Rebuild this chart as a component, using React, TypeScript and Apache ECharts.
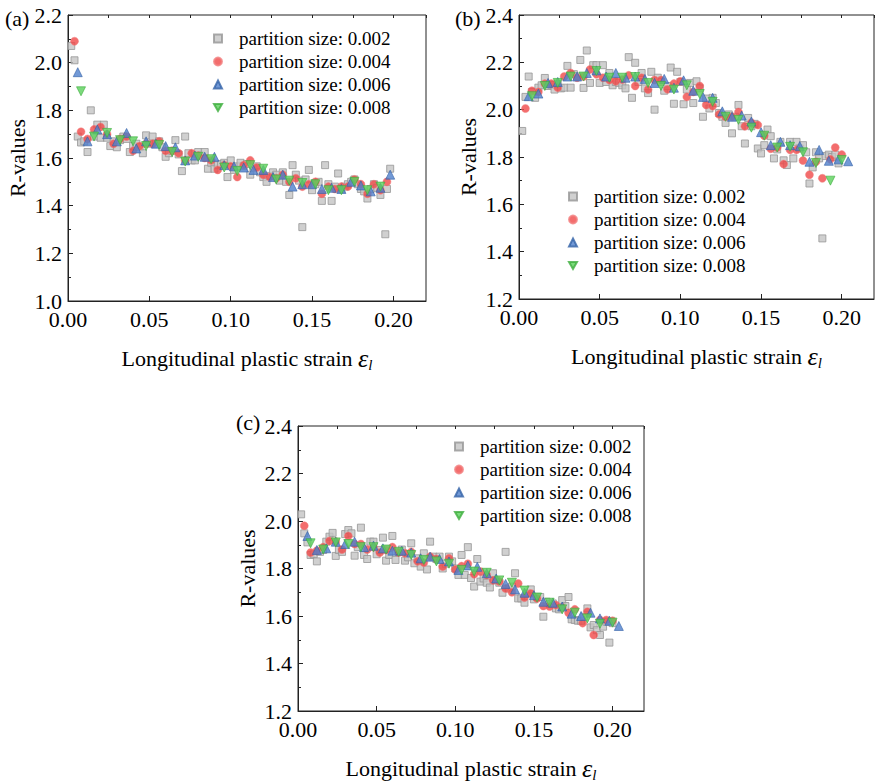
import React, { useEffect, useRef } from "react";
import * as echarts from "echarts";

const FONT = "Liberation Serif, Times New Roman, serif";
const S1 = "partition size: 0.002";
const S2 = "partition size: 0.004";
const S3 = "partition size: 0.006";
const S4 = "partition size: 0.008";
const SERIES_NAMES = [S1, S2, S3, S4];
const PANEL_LABELS = ["(a)", "(b)", "(c)"];
const X_TICKS = { min: 0, max: 0.22, major: 0.05, minor: 0.025 };
const Y_RANGES = [
  [1.0, 2.2],
  [1.2, 2.4],
  [1.2, 2.4],
];

// ---------- Panel (a) ----------
const A002 = [
  [0.002, 2.07], [0.004, 2.01], [0.006, 1.69], [0.008, 1.665], [0.010, 1.67], [0.012, 1.625], [0.014, 1.80], [0.016, 1.69], [0.018, 1.74], [0.020, 1.685],
  [0.022, 1.74], [0.024, 1.685], [0.026, 1.65], [0.028, 1.67], [0.030, 1.645], [0.032, 1.675], [0.034, 1.69], [0.036, 1.68], [0.038, 1.625], [0.040, 1.65],
  [0.042, 1.66], [0.044, 1.645], [0.046, 1.62], [0.048, 1.695], [0.050, 1.66], [0.052, 1.69], [0.054, 1.66], [0.056, 1.67], [0.058, 1.645], [0.060, 1.605],
  [0.062, 1.62], [0.064, 1.63], [0.066, 1.675], [0.068, 1.615], [0.070, 1.545], [0.072, 1.69], [0.074, 1.62], [0.076, 1.59], [0.078, 1.59], [0.080, 1.625],
  [0.082, 1.61], [0.084, 1.625], [0.086, 1.555], [0.088, 1.58], [0.090, 1.555], [0.092, 1.57], [0.094, 1.575], [0.096, 1.58], [0.098, 1.52], [0.100, 1.59],
  [0.102, 1.55], [0.104, 1.565], [0.106, 1.58], [0.108, 1.565], [0.110, 1.575], [0.112, 1.53], [0.114, 1.56], [0.116, 1.565], [0.118, 1.54], [0.120, 1.52],
  [0.122, 1.50], [0.124, 1.525], [0.126, 1.54], [0.128, 1.53], [0.130, 1.505], [0.132, 1.54], [0.134, 1.50], [0.136, 1.445], [0.138, 1.57], [0.140, 1.53],
  [0.142, 1.505], [0.144, 1.31], [0.146, 1.51], [0.148, 1.55], [0.150, 1.465], [0.152, 1.49], [0.154, 1.50], [0.156, 1.42], [0.158, 1.57], [0.160, 1.49],
  [0.162, 1.42], [0.164, 1.48], [0.166, 1.535], [0.168, 1.47], [0.170, 1.48], [0.172, 1.49], [0.174, 1.50], [0.176, 1.51], [0.178, 1.49], [0.180, 1.47],
  [0.182, 1.46], [0.184, 1.43], [0.186, 1.47], [0.188, 1.49], [0.190, 1.475], [0.192, 1.445], [0.195, 1.28], [0.196, 1.47], [0.198, 1.555],
];
const A004 = [
  [0.004, 2.09], [0.008, 1.71], [0.012, 1.68], [0.016, 1.72], [0.020, 1.73], [0.024, 1.70], [0.028, 1.66], [0.032, 1.68], [0.036, 1.69], [0.040, 1.63],
  [0.044, 1.65], [0.048, 1.66], [0.052, 1.66], [0.056, 1.67], [0.060, 1.63], [0.064, 1.63], [0.068, 1.62], [0.072, 1.59], [0.076, 1.62], [0.080, 1.61],
  [0.084, 1.60], [0.088, 1.59], [0.092, 1.55], [0.096, 1.57], [0.100, 1.565], [0.104, 1.52], [0.108, 1.57], [0.112, 1.59], [0.116, 1.56], [0.120, 1.53],
  [0.124, 1.52], [0.128, 1.515], [0.132, 1.53], [0.136, 1.50], [0.140, 1.515], [0.144, 1.48], [0.148, 1.49], [0.152, 1.50], [0.156, 1.45], [0.160, 1.48],
  [0.164, 1.47], [0.168, 1.48], [0.172, 1.48], [0.176, 1.51], [0.180, 1.49], [0.184, 1.45], [0.188, 1.49], [0.192, 1.465], [0.196, 1.50],
];
const A006 = [
  [0.006, 1.96], [0.012, 1.67], [0.018, 1.72], [0.024, 1.70], [0.030, 1.67], [0.036, 1.705], [0.042, 1.64], [0.048, 1.67], [0.054, 1.66], [0.060, 1.65],
  [0.066, 1.645], [0.072, 1.59], [0.078, 1.61], [0.084, 1.605], [0.090, 1.605], [0.096, 1.57], [0.102, 1.565], [0.108, 1.56], [0.114, 1.55], [0.120, 1.55],
  [0.126, 1.52], [0.132, 1.53], [0.138, 1.48], [0.144, 1.49], [0.150, 1.49], [0.156, 1.47], [0.162, 1.475], [0.168, 1.47], [0.174, 1.50], [0.180, 1.485],
  [0.186, 1.46], [0.192, 1.475], [0.198, 1.53],
];
const A008 = [
  [0.008, 1.88], [0.016, 1.69], [0.024, 1.705], [0.032, 1.675], [0.040, 1.67], [0.048, 1.65], [0.056, 1.655], [0.064, 1.625], [0.072, 1.585], [0.080, 1.605],
  [0.088, 1.595], [0.096, 1.56], [0.104, 1.545], [0.112, 1.57], [0.120, 1.555], [0.128, 1.51], [0.136, 1.505], [0.144, 1.495], [0.152, 1.49], [0.160, 1.465],
  [0.168, 1.465], [0.176, 1.50], [0.184, 1.465], [0.192, 1.48],
];

// ---------- Panel (b) ----------
const B002 = [
  [0.002, 1.91], [0.004, 2.054], [0.006, 2.14], [0.008, 2.075], [0.010, 2.05], [0.012, 2.093], [0.014, 2.103], [0.016, 2.134], [0.018, 2.10], [0.020, 2.105],
  [0.022, 2.085], [0.024, 2.11], [0.026, 2.09], [0.028, 2.093], [0.030, 2.185], [0.032, 2.093], [0.034, 2.15], [0.036, 2.14], [0.038, 2.21], [0.040, 2.092],
  [0.042, 2.25], [0.044, 2.113], [0.046, 2.188], [0.048, 2.188], [0.050, 2.113], [0.052, 2.188], [0.054, 2.117], [0.056, 2.155], [0.058, 2.103], [0.060, 2.117],
  [0.062, 2.113], [0.064, 2.103], [0.066, 2.09], [0.068, 2.222], [0.070, 2.05], [0.072, 2.198], [0.074, 2.117], [0.076, 2.155], [0.078, 2.09], [0.080, 2.07],
  [0.082, 2.16], [0.084, 2.0], [0.086, 2.135], [0.088, 2.117], [0.090, 2.08], [0.092, 2.10], [0.094, 2.178], [0.096, 2.025], [0.098, 2.16], [0.100, 2.117],
  [0.102, 2.023], [0.104, 2.085], [0.106, 2.113], [0.108, 2.028], [0.110, 2.12], [0.112, 2.09], [0.114, 1.97], [0.116, 2.047], [0.118, 2.005], [0.120, 2.05],
  [0.122, 2.028], [0.124, 1.986], [0.126, 1.97], [0.128, 1.944], [0.130, 1.98], [0.132, 1.90], [0.134, 1.97], [0.136, 2.02], [0.138, 1.93], [0.140, 1.857],
  [0.142, 1.965], [0.144, 1.93], [0.146, 1.94], [0.148, 1.836], [0.150, 1.815], [0.152, 1.85], [0.154, 1.916], [0.156, 1.888], [0.158, 1.794], [0.160, 1.832],
  [0.162, 1.864], [0.164, 1.786], [0.166, 1.766], [0.168, 1.864], [0.170, 1.794], [0.172, 1.864], [0.174, 1.836], [0.176, 1.85], [0.178, 1.82], [0.180, 1.688],
  [0.182, 1.756], [0.184, 1.82], [0.186, 1.794], [0.188, 1.456], [0.190, 1.804], [0.192, 1.81], [0.194, 1.80], [0.196, 1.81], [0.198, 1.773],
];
const B004 = [
  [0.004, 2.005], [0.008, 2.08], [0.012, 2.075], [0.016, 2.11], [0.020, 2.11], [0.024, 2.093], [0.028, 2.14], [0.032, 2.155], [0.036, 2.135], [0.040, 2.14],
  [0.044, 2.17], [0.048, 2.15], [0.052, 2.135], [0.056, 2.125], [0.060, 2.12], [0.064, 2.127], [0.068, 2.145], [0.072, 2.10], [0.076, 2.135], [0.080, 2.085],
  [0.084, 2.125], [0.088, 2.125], [0.092, 2.086], [0.096, 2.11], [0.100, 2.12], [0.104, 2.054], [0.108, 2.075], [0.112, 2.10], [0.116, 2.02], [0.120, 2.015],
  [0.124, 1.98], [0.128, 1.97], [0.132, 1.97], [0.136, 1.99], [0.140, 1.93], [0.144, 1.945], [0.148, 1.935], [0.152, 1.89], [0.156, 1.835], [0.160, 1.84],
  [0.164, 1.77], [0.168, 1.83], [0.172, 1.83], [0.176, 1.785], [0.180, 1.725], [0.184, 1.78], [0.188, 1.71], [0.193, 1.79], [0.196, 1.84], [0.200, 1.81],
];
const B006 = [
  [0.006, 2.057], [0.012, 2.068], [0.018, 2.113], [0.024, 2.117], [0.030, 2.14], [0.036, 2.14], [0.042, 2.155], [0.048, 2.166], [0.054, 2.14], [0.060, 2.155],
  [0.066, 2.135], [0.072, 2.14], [0.078, 2.13], [0.084, 2.113], [0.090, 2.13], [0.096, 2.093], [0.102, 2.124], [0.108, 2.08], [0.114, 2.054], [0.120, 2.05],
  [0.126, 1.993], [0.132, 1.97], [0.138, 1.975], [0.144, 1.95], [0.150, 1.905], [0.156, 1.85], [0.162, 1.864], [0.168, 1.85], [0.174, 1.846], [0.180, 1.78],
  [0.186, 1.83], [0.192, 1.784], [0.198, 1.79], [0.204, 1.782],
];
const B008 = [
  [0.008, 2.057], [0.016, 2.10], [0.024, 2.113], [0.032, 2.14], [0.040, 2.14], [0.048, 2.163], [0.056, 2.135], [0.064, 2.135], [0.072, 2.138], [0.080, 2.113],
  [0.088, 2.10], [0.096, 2.085], [0.104, 2.103], [0.112, 2.066], [0.120, 2.033], [0.128, 1.97], [0.136, 1.957], [0.144, 1.924], [0.152, 1.89], [0.160, 1.84],
  [0.168, 1.843], [0.176, 1.82], [0.184, 1.775], [0.193, 1.70], [0.200, 1.787],
];

// ---------- Panel (c) ----------
const C002 = [
  [0.002, 2.028], [0.004, 1.948], [0.006, 1.91], [0.008, 1.857], [0.010, 1.86], [0.012, 1.83], [0.014, 1.87], [0.016, 1.878], [0.018, 1.913], [0.020, 1.934],
  [0.022, 1.95], [0.024, 1.853], [0.026, 1.878], [0.028, 1.87], [0.030, 1.945], [0.032, 1.962], [0.034, 1.948], [0.036, 1.854], [0.038, 1.89], [0.040, 1.972],
  [0.042, 1.857], [0.044, 1.84], [0.046, 1.913], [0.048, 1.913], [0.050, 1.86], [0.052, 1.878], [0.054, 1.93], [0.056, 1.833], [0.058, 1.857], [0.060, 1.937],
  [0.062, 1.836], [0.064, 1.87], [0.066, 1.88], [0.068, 1.833], [0.070, 1.847], [0.072, 1.906], [0.074, 1.822], [0.076, 1.843], [0.078, 1.808], [0.080, 1.864],
  [0.082, 1.796], [0.084, 1.913], [0.086, 1.85], [0.088, 1.84], [0.090, 1.85], [0.092, 1.80], [0.094, 1.82], [0.096, 1.85], [0.098, 1.83], [0.100, 1.80],
  [0.102, 1.773], [0.104, 1.857], [0.106, 1.773], [0.108, 1.89], [0.110, 1.76], [0.112, 1.724], [0.114, 1.84], [0.116, 1.745], [0.118, 1.758], [0.120, 1.74],
  [0.122, 1.72], [0.124, 1.78], [0.126, 1.75], [0.128, 1.74], [0.130, 1.698], [0.132, 1.87], [0.134, 1.716], [0.136, 1.724], [0.138, 1.78], [0.140, 1.674],
  [0.142, 1.674], [0.144, 1.656], [0.146, 1.695], [0.148, 1.712], [0.150, 1.67], [0.152, 1.68], [0.154, 1.68], [0.156, 1.597], [0.158, 1.66], [0.160, 1.65],
  [0.162, 1.653], [0.164, 1.632], [0.166, 1.628], [0.168, 1.667], [0.170, 1.642], [0.172, 1.68], [0.174, 1.586], [0.176, 1.583], [0.178, 1.58], [0.180, 1.58],
  [0.182, 1.597], [0.184, 1.632], [0.186, 1.552], [0.188, 1.562], [0.190, 1.54], [0.192, 1.52], [0.194, 1.555], [0.196, 1.576], [0.198, 1.488], [0.200, 1.57],
];
const C004 = [
  [0.004, 1.98], [0.008, 1.867], [0.012, 1.875], [0.016, 1.89], [0.020, 1.916], [0.024, 1.913], [0.028, 1.88], [0.032, 1.937], [0.036, 1.903], [0.040, 1.903],
  [0.044, 1.88], [0.048, 1.89], [0.052, 1.867], [0.056, 1.878], [0.060, 1.89], [0.064, 1.867], [0.068, 1.864], [0.072, 1.87], [0.076, 1.83], [0.080, 1.825],
  [0.084, 1.85], [0.088, 1.84], [0.092, 1.808], [0.096, 1.843], [0.100, 1.796], [0.104, 1.81], [0.108, 1.82], [0.112, 1.776], [0.116, 1.787], [0.120, 1.773],
  [0.124, 1.75], [0.128, 1.745], [0.132, 1.716], [0.136, 1.70], [0.140, 1.737], [0.144, 1.678], [0.148, 1.695], [0.152, 1.674], [0.156, 1.642], [0.160, 1.64],
  [0.164, 1.646], [0.168, 1.636], [0.172, 1.614], [0.176, 1.628], [0.181, 1.57], [0.184, 1.618], [0.188, 1.52], [0.192, 1.583], [0.196, 1.583], [0.200, 1.58],
];
const C006 = [
  [0.006, 1.937], [0.012, 1.878], [0.018, 1.885], [0.024, 1.913], [0.030, 1.903], [0.036, 1.913], [0.042, 1.89], [0.048, 1.896], [0.054, 1.885], [0.060, 1.875],
  [0.066, 1.875], [0.072, 1.867], [0.078, 1.843], [0.084, 1.85], [0.090, 1.84], [0.096, 1.83], [0.102, 1.794], [0.108, 1.813], [0.114, 1.807], [0.120, 1.78],
  [0.126, 1.758], [0.132, 1.735], [0.138, 1.712], [0.144, 1.698], [0.150, 1.688], [0.156, 1.66], [0.162, 1.656], [0.168, 1.64], [0.174, 1.61], [0.180, 1.60],
  [0.186, 1.614], [0.192, 1.59], [0.198, 1.58], [0.204, 1.558],
];
const C008 = [
  [0.008, 1.906], [0.016, 1.88], [0.024, 1.91], [0.032, 1.903], [0.040, 1.89], [0.048, 1.89], [0.056, 1.88], [0.064, 1.87], [0.072, 1.857], [0.080, 1.836],
  [0.088, 1.83], [0.096, 1.82], [0.104, 1.794], [0.112, 1.787], [0.120, 1.782], [0.128, 1.75], [0.136, 1.74], [0.144, 1.707], [0.152, 1.678], [0.160, 1.656],
  [0.168, 1.628], [0.176, 1.614], [0.184, 1.59], [0.192, 1.567], [0.200, 1.572],
];

const PANEL_DATA = [
  [A002, A004, A006, A008],
  [B002, B004, B006, B008],
  [C002, C004, C006, C008],
];

// layout (pixels)
const GRIDS = [
  { left: 68, top: 15, width: 358, height: 286 },
  { left: 519, top: 15, width: 355, height: 284 },
  { left: 298, top: 426, width: 346, height: 285 },
];
const LEGENDS = [
  { left: 213, top: 29 },
  { left: 568, top: 187 },
  { left: 454, top: 437 },
];
const LABEL_POS = [
  { left: 5, top: 7 },
  { left: 455, top: 7 },
  { left: 236, top: 411 },
];

const STYLES = [
  { symbol: "rect", symbolSize: 7, symbolRotate: 0, icon: "rect", itemStyle: { color: "#c4c4c4", borderColor: "#969696", borderWidth: 1 } },
  { symbol: "circle", symbolSize: 8, symbolRotate: 0, icon: "circle", itemStyle: { color: "#f04848", borderColor: "#f28080", borderWidth: 0.6 } },
  { symbol: "triangle", symbolSize: 9, symbolRotate: 0, icon: "triangle", itemStyle: { color: "#4f80cc", borderColor: "#3563a8", borderWidth: 0.8 } },
  { symbol: "triangle", symbolSize: 9, symbolRotate: 180, icon: "path://M0,0L10,0L5,8.66Z", itemStyle: { color: "#5bd15b", borderColor: "#3fae3f", borderWidth: 0.8 } },
];

function buildOption() {
  const grid: any[] = [];
  const xAxis: any[] = [];
  const yAxis: any[] = [];
  const series: any[] = [];
  const legend: any[] = [];
  const graphic: any[] = [];
  GRIDS.forEach((g, i) => {
    grid.push({ ...g, show: true, borderColor: "#222", borderWidth: 1, backgroundColor: "transparent" });
    xAxis.push({
      gridIndex: i,
      type: "value",
      min: X_TICKS.min,
      max: X_TICKS.max,
      interval: X_TICKS.major,
      axisLine: { show: true, onZero: false, lineStyle: { color: "#222", width: 1 } },
      axisTick: { show: true, inside: true, length: 5, lineStyle: { color: "#222" } },
      splitLine: { show: false },
      axisLabel: {
        fontSize: 22,
        lineHeight: 16,
        fontFamily: FONT,
        color: "#000",
        margin: 10,
        showMaxLabel: false,
        formatter: (v: number) => v.toFixed(2),
      },
      name: "Longitudinal plastic strain {e|ε}{s|l}",
      nameLocation: "middle",
      nameGap: 44,
      nameTextStyle: {
        fontSize: 22,
        fontFamily: FONT,
        color: "#000",
        rich: {
          e: { fontSize: 26, fontStyle: "italic", fontFamily: FONT, color: "#000" },
          s: { fontSize: 15, fontStyle: "italic", fontFamily: FONT, color: "#000", padding: [12, 0, 0, 0] },
        },
      },
    });
    xAxis.push({
      gridIndex: i,
      type: "value",
      min: X_TICKS.min,
      max: X_TICKS.max,
      interval: X_TICKS.minor,
      axisLine: { show: false, onZero: false },
      axisTick: { show: true, inside: true, length: 3, lineStyle: { color: "#222" } },
      splitLine: { show: false },
      axisLabel: { show: false },
    });
    const [ymin, ymax] = Y_RANGES[i];
    yAxis.push({
      gridIndex: i,
      type: "value",
      min: ymin,
      max: ymax,
      interval: 0.2,
      axisLine: { show: true, onZero: false, lineStyle: { color: "#222", width: 1 } },
      axisTick: { show: true, inside: true, length: 5, lineStyle: { color: "#222" } },
      minorTick: { show: true, splitNumber: 2, length: 3, lineStyle: { color: "#222" } },
      splitLine: { show: false },
      minorSplitLine: { show: false },
      axisLabel: {
        fontSize: 22,
        lineHeight: 16,
        fontFamily: FONT,
        color: "#000",
        margin: 6,
        formatter: (v: number) => v.toFixed(1),
      },
      name: "R-values",
      nameLocation: "middle",
      nameGap: 40,
      nameTextStyle: { fontSize: 22, fontFamily: FONT, color: "#000" },
    });
    PANEL_DATA[i].forEach((data, k) => {
      const st = STYLES[k];
      series.push({
        type: "scatter",
        name: SERIES_NAMES[k],
        xAxisIndex: i * 2,
        yAxisIndex: i,
        data,
        symbol: st.symbol,
        symbolSize: st.symbolSize,
        symbolRotate: st.symbolRotate,
        itemStyle: st.itemStyle,
        z: 2 + k,
      });
    });
    legend.push({
      orient: "vertical",
      left: LEGENDS[i].left,
      top: LEGENDS[i].top,
      data: SERIES_NAMES.map((n, k) => ({ name: n, icon: STYLES[k].icon, symbolRotate: 0 })),
      itemWidth: 8,
      itemHeight: 8,
      itemGap: 4,
      selectedMode: false,
      padding: 0,
      textStyle: { fontSize: 19, fontFamily: FONT, color: "#000", lineHeight: 19, padding: [0, 0, 0, 12] },
    });
    graphic.push({
      type: "text",
      left: LABEL_POS[i].left,
      top: LABEL_POS[i].top,
      style: { text: PANEL_LABELS[i], fontSize: 22, fontFamily: FONT, fill: "#000" },
    });
  });
  return {
    animation: false,
    backgroundColor: "#fff",
    grid,
    xAxis,
    yAxis,
    series,
    legend,
    graphic,
  };
}

export default function App() {
  const ref = useRef<HTMLDivElement>(null);
  useEffect(() => {
    if (!ref.current) return;
    const chart = echarts.init(ref.current, undefined, { renderer: "svg" });
    chart.setOption(buildOption() as any);
    return () => chart.dispose();
  }, []);
  return (
    <div
      ref={ref}
      style={{ position: "absolute", left: 0, top: 0, width: 876, height: 783, background: "#fff" }}
    />
  );
}
